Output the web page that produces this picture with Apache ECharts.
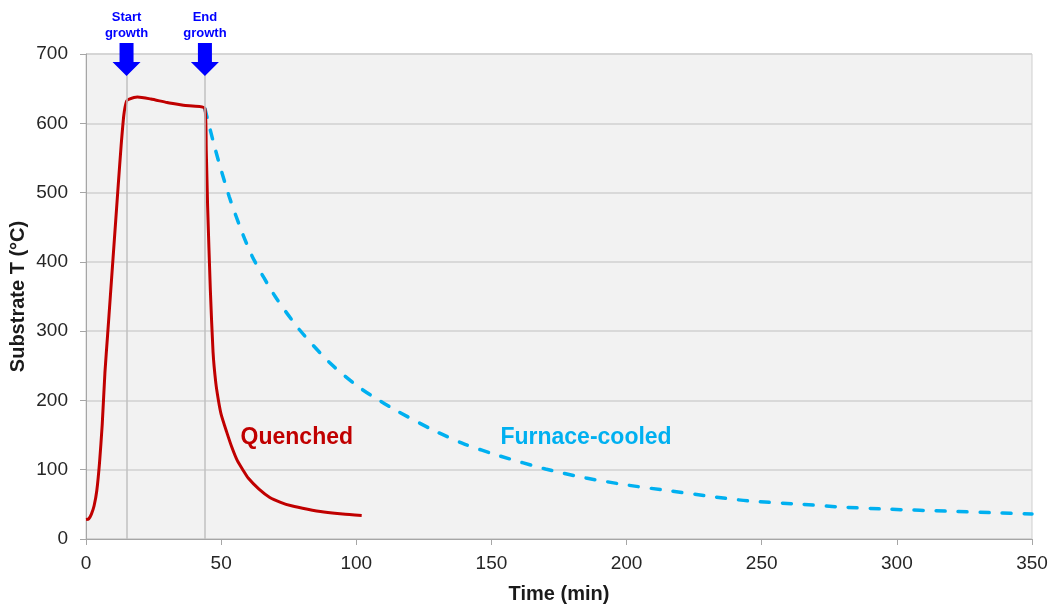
<!DOCTYPE html>
<html>
<head>
<meta charset="utf-8">
<title>Substrate temperature profile</title>
<script src="https://cdn.jsdelivr.net/npm/echarts@6/dist/echarts.min.js"></script>
<style>
  html, body { margin: 0; padding: 0; background: #ffffff; }
  #chart { width: 1054px; height: 605px; }
</style>
</head>
<body>
<div id="chart"></div>
<script>
// Quenched run: ramp-up, growth plateau, fast quench
const quenchedTime = [0, 1, 2, 3, 4, 5, 6, 7, 8, 9, 10, 11, 12, 13, 14, 15, 16, 19, 24, 30, 36, 44,
  44.5, 45, 46, 47, 48, 49, 50, 52, 54, 56, 58, 60, 64, 68, 72, 76, 82, 88, 95, 102];
const quenchedTemp = [28, 29, 36, 48, 70, 110, 165, 240, 295, 350, 405, 460, 515, 568, 612, 632, 635, 638, 635, 630, 626, 621,
  560, 480, 360, 270, 226, 200, 180, 155, 132, 113, 100, 88, 72, 60, 53, 48, 43, 39, 36, 34];

// Furnace-cooled run: slow cooling after the end of growth
const furnaceTime = [44, 48, 53, 58, 62, 70, 79, 90, 100, 106, 115, 128, 140, 153, 170, 185, 200,
  215, 230, 245, 265, 280, 297, 320, 335, 350];
const furnaceTemp = [621, 560, 494, 440, 404, 350, 302, 255, 222, 206, 185, 158, 137, 120, 101, 88, 78,
  70, 62, 55, 50, 46, 43, 40, 38, 36];

// Growth start / end markers
const eventTimes = [15, 44];
const eventLabels = ['Start\ngrowth', 'End\ngrowth'];

// In-plot series captions (anchored in data coordinates)
const captionQuenched = { text: 'Quenched', at: [78, 146] };
const captionFurnace = { text: 'Furnace-cooled', at: [185, 146] };

const xTicks = { min: 0, max: 350, interval: 50 };
const yTicks = { min: 0, max: 700, interval: 100 };

const xTitle = 'Time (min)';
const yTitle = 'Substrate T (°C)';

const pairs = (xs, ys) => xs.map((x, i) => [x, ys[i]]);

const RED = '#C00000';
const CYAN = '#00B0F0';
const BLUE = '#0000FF';
const FONT = '"Liberation Sans", Arial, sans-serif';

const GRID = { left: 86, right: 22, top: 54, bottom: 66 };
const W = 1054, H = 605;

const arrowPath = 'path://M7,0 L21,0 L21,19 L28,19 L14,33 L0,19 L7,19 Z';

const chart = echarts.init(document.getElementById('chart'), null, { renderer: 'canvas' });

chart.setOption({
  animation: false,
  backgroundColor: '#ffffff',
  textStyle: { fontFamily: FONT },
  grid: {
    left: GRID.left, right: GRID.right, top: GRID.top, bottom: GRID.bottom,
    containLabel: false,
    outerBoundsMode: 'none',
    show: true,
    backgroundColor: '#F2F2F2',
    borderColor: '#CFCFCF',
    borderWidth: 1
  },
  // vertical axis title, centred on the plot height
  graphic: [{
    type: 'text',
    x: 18,
    y: (GRID.top + (H - GRID.bottom)) / 2,
    rotation: Math.PI / 2,
    silent: true,
    style: {
      text: yTitle,
      fill: '#1a1a1a',
      font: 'bold 20px "Liberation Sans", Arial, sans-serif',
      align: 'center',
      verticalAlign: 'middle'
    }
  }],
  xAxis: {
    type: 'value',
    min: xTicks.min, max: xTicks.max, interval: xTicks.interval,
    name: xTitle,
    nameLocation: 'middle',
    nameGap: 45,
    nameTextStyle: { fontSize: 20, fontWeight: 'bold', color: '#1a1a1a', fontFamily: FONT },
    axisLine: { show: true, lineStyle: { color: '#A6A6A6', width: 1 } },
    axisTick: { show: true, length: 6, lineStyle: { color: '#A6A6A6' } },
    axisLabel: { fontSize: 19, color: '#262626', margin: 15, fontFamily: FONT },
    splitLine: { show: false }
  },
  yAxis: {
    type: 'value',
    min: yTicks.min, max: yTicks.max, interval: yTicks.interval,
    axisLine: { show: true, lineStyle: { color: '#A6A6A6', width: 1 } },
    axisTick: { show: true, length: 6, lineStyle: { color: '#A6A6A6' } },
    axisLabel: { fontSize: 19, color: '#262626', margin: 18, fontFamily: FONT },
    splitLine: { show: true, lineStyle: { color: '#D0D0D0', width: 1.5 } }
  },
  series: [
    {
      name: 'Furnace-cooled',
      type: 'line',
      data: pairs(furnaceTime, furnaceTemp),
      showSymbol: false,
      smooth: 0.25,
      lineStyle: { color: CYAN, width: 3.5, type: [9, 13], cap: 'round' },
      z: 2,
      markPoint: {
        silent: true,
        symbolSize: 0,
        data: [{
          coord: captionFurnace.at,
          label: {
            show: true, position: 'inside', formatter: captionFurnace.text,
            color: CYAN, fontSize: 23, fontWeight: 'bold', fontFamily: FONT
          }
        }]
      }
    },
    {
      name: 'Quenched',
      type: 'line',
      data: pairs(quenchedTime, quenchedTemp),
      showSymbol: false,
      smooth: 0.2,
      lineStyle: { color: RED, width: 3 },
      z: 3,
      markLine: {
        silent: true,
        symbol: 'none',
        label: { show: false },
        lineStyle: { color: '#C0C0C0', width: 1.5, type: 'solid' },
        data: eventTimes.map(t => ({ xAxis: t }))
      },
      markPoint: {
        silent: true,
        data: eventTimes.map((t, i) => ({
          coord: [t, yTicks.max],
          symbol: arrowPath,
          symbolSize: [28, 33],
          symbolOffset: [0, 5.5],
          itemStyle: { color: BLUE },
          label: {
            show: true, position: 'top', distance: 2,
            formatter: eventLabels[i],
            color: BLUE, fontSize: 13, fontWeight: 'bold', lineHeight: 16,
            align: 'center', fontFamily: FONT
          }
        })).concat([{
          coord: captionQuenched.at,
          symbolSize: 0,
          label: {
            show: true, position: 'inside', formatter: captionQuenched.text,
            color: RED, fontSize: 23, fontWeight: 'bold', fontFamily: FONT
          }
        }])
      }
    }
  ]
});
</script>
</body>
</html>
